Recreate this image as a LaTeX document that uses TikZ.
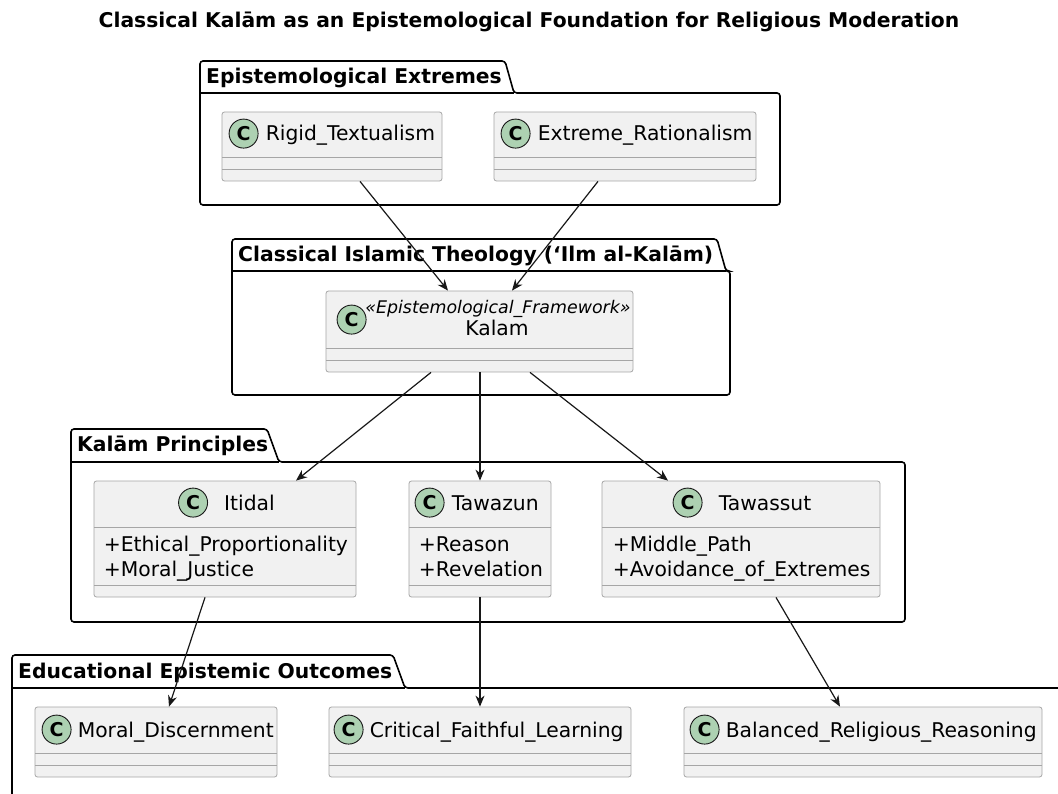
\documentclass[tikz,border=0pt]{standalone}
\usepackage{fontspec}
\setmainfont{DejaVu Sans}
\usetikzlibrary{arrows.meta, positioning}
\definecolor{classfill}{HTML}{F1F1F1}
\definecolor{circfill}{HTML}{ADD1B2}
\definecolor{umlline}{HTML}{181818}
\newcommand\classfont{\fontsize{20.3}{22}\selectfont}
\tikzset{
  classbox/.style   = {shape=rectangle, rounded corners=2.5pt,
                       draw=gray!70, line width=0.8pt,
                       fill=classfill, inner sep=0pt},
  emptyclass/.style = {classbox, path picture={
      \draw[gray!70, line width=0.8pt]
        ([yshift=12pt]path picture bounding box.south west) --
        ([yshift=12pt]path picture bounding box.south east)
        ([yshift=24pt]path picture bounding box.south west) --
        ([yshift=24pt]path picture bounding box.south east);}},
  attrclass/.style  = {classbox, path picture={
      \draw[gray!70, line width=0.8pt]
        ([yshift=12pt]path picture bounding box.south west) --
        ([yshift=12pt]path picture bounding box.south east)
        ([yshift=-46pt]path picture bounding box.north west) --
        ([yshift=-46pt]path picture bounding box.north east);}},
  circ/.style       = {circle, draw=umlline, line width=0.9pt,
                       fill=circfill, minimum size=29pt, inner sep=0pt,
                       font=\bfseries\fontsize{19}{20}\selectfont},
  cname/.style      = {inner sep=0pt, text height=14.8pt, text depth=0pt,
                       font=\classfont},
  stereo/.style     = {inner sep=0pt, text height=12.7pt, text depth=0pt,
                       font=\itshape\fontsize{17.4}{19}\selectfont},
  attr/.style       = {inner sep=0pt, anchor=base west, font=\classfont},
  pkg/.style        = {draw=black, line width=1.6pt, rounded corners=3pt},
  pkgtitle/.style   = {cname, anchor=west, font=\bfseries\classfont}
}
\begin{document}
\begin{tikzpicture}
  [
    x                 = 1pt,
    y                 = -1pt,
    dep/.style        = {draw=umlline, line width=1.2pt,
                         -{Stealth[length=11pt, width=9pt, inset=3.5pt]}}
  ]
  \useasboundingbox (0,0) rectangle (1058,794);
  \fill[white] (0,0) rectangle (1058,794);
  \clip (0,0) rectangle (1058,794);

  \node[font=\bfseries\fontsize{20.3}{22}\selectfont] (title) at (529,22)
    {Classical Kalām as an Epistemological Foundation for Religious Moderation};

  % packages
  \draw[pkg] (200,205) -- (200,61) -- (505,61) -- (514,93) -- (780,93) -- (780,205) -- cycle;
  \draw[pkg] (200,93) -- (514,93);
  \node[pkgtitle] (exttitle) at (206,76.5) {Epistemological Extremes};

  \draw[pkg] (232,395) -- (232,239) -- (717,239) -- (726,271) -- (730,271) -- (730,395) -- cycle;
  \draw[pkg] (232,271) -- (726,271);
  \node[pkgtitle] (kalamtitle) at (238,254.5) {Classical Islamic Theology (‘Ilm al-Kalām)};

  \draw[pkg] (71,622) -- (71,429) -- (267,429) -- (279,462) -- (905,462) -- (905,622) -- cycle;
  \draw[pkg] (71,462) -- (279,462);
  \node[pkgtitle] (princtitle) at (77,444.5) {Kalām Principles};

  \draw[pkg] (12,820) -- (12,655) -- (393,655) -- (405,688) -- (1080,688) -- (1080,820) -- cycle;
  \draw[pkg] (12,688) -- (405,688);
  \node[pkgtitle] (outctitle) at (18,671) {Educational Epistemic Outcomes};

  % extremes
  \node[emptyclass, minimum width=220pt, minimum height=69pt] (rigid) at (332,146.5) {};
  \node[circ] (rigidc) at ([shift={(22pt,-22pt)}]rigid.north west) {C};
  \node[cname, right=7pt of rigidc] (rigidn) {Rigid\_Textualism};

  \node[emptyclass, minimum width=262pt, minimum height=69pt] (extreme) at (625,146.5) {};
  \node[circ] (extremec) at ([shift={(22pt,-22pt)}]extreme.north west) {C};
  \node[cname, right=7pt of extremec] (extremen) {Extreme\_Rationalism};

  % kalam
  \node[emptyclass, minimum width=307pt, minimum height=81pt] (kalam) at (479.5,331.5) {};
  \node[circ] (kalamc) at ([shift={(26pt,-29pt)}]kalam.north west) {C};
  \node[stereo] (kalams) at ([shift={(18.5pt,-17pt)}]kalam.north) {«Epistemological\_Framework»};
  \node[cname] (kalamn) at ([shift={(17.5pt,-38pt)}]kalam.north) {Kalam};

  % principles
  \node[attrclass, minimum width=262pt, minimum height=116pt] (itidal) at (225,539) {};
  \node[cname] (itidaln) at ([shift={(24.5pt,-22pt)}]itidal.north) {Itidal};
  \node[circ, left=16pt of itidaln] (itidalc) {C};
  \node[attr] (itidala) at ([shift={(10pt,-70.5pt)}]itidal.north west) {+Ethical\_Proportionality};
  \node[attr] (itidalb) at ([shift={(10pt,-95.5pt)}]itidal.north west) {+Moral\_Justice};

  \node[attrclass, minimum width=142pt, minimum height=116pt] (tawazun) at (480,539) {};
  \node[circ] (tawazunc) at ([shift={(21pt,-22pt)}]tawazun.north west) {C};
  \node[cname, right=7pt of tawazunc] (tawazunn) {Tawazun};
  \node[attr] (tawazuna) at ([shift={(10pt,-70.5pt)}]tawazun.north west) {+Reason};
  \node[attr] (tawazunb) at ([shift={(10pt,-95.5pt)}]tawazun.north west) {+Revelation};

  \node[attrclass, minimum width=278pt, minimum height=116pt] (tawassut) at (741,539) {};
  \node[cname] (tawassutn) at ([shift={(24pt,-22pt)}]tawassut.north) {Tawassut};
  \node[circ, left=16pt of tawassutn] (tawassutc) {C};
  \node[attr] (tawassuta) at ([shift={(11pt,-70.5pt)}]tawassut.north west) {+Middle\_Path};
  \node[attr] (tawassutb) at ([shift={(11pt,-95.5pt)}]tawassut.north west) {+Avoidance\_of\_Extremes};

  % outcomes
  \node[emptyclass, minimum width=242pt, minimum height=70pt] (moral) at (156,742) {};
  \node[circ] (moralc) at ([shift={(22pt,-23pt)}]moral.north west) {C};
  \node[cname, right=6pt of moralc] (moraln) {Moral\_Discernment};

  \node[emptyclass, minimum width=302pt, minimum height=70pt] (critical) at (480,742) {};
  \node[circ] (criticalc) at ([shift={(20pt,-23pt)}]critical.north west) {C};
  \node[cname, right=6pt of criticalc] (criticaln) {Critical\_Faithful\_Learning};

  \node[emptyclass, minimum width=358pt, minimum height=70pt] (balanced) at (863,742) {};
  \node[circ] (balancedc) at ([shift={(21pt,-23pt)}]balanced.north west) {C};
  \node[cname, right=6pt of balancedc] (balancedn) {Balanced\_Religious\_Reasoning};

  % dependencies
  \draw[dep] ([xshift=28pt]rigid.south) -- ([xshift=-31.5pt]kalam.north);
  \draw[dep] ([xshift=-27pt]extreme.south) -- ([xshift=32.5pt]kalam.north);
  \draw[dep] ([xshift=-48.5pt]kalam.south) -- ([xshift=71pt]itidal.north);
  \draw[dep] ([xshift=0.5pt]kalam.south) -- (tawazun.north);
  \draw[dep] ([xshift=50.5pt]kalam.south) -- ([xshift=-73pt]tawassut.north);
  \draw[dep] ([xshift=-20pt]itidal.south) -- ([xshift=13pt]moral.north);
  \draw[dep] (tawazun.south) -- (critical.north);
  \draw[dep] ([xshift=35pt]tawassut.south) -- ([xshift=-23pt]balanced.north);
\end{tikzpicture}
\end{document}
